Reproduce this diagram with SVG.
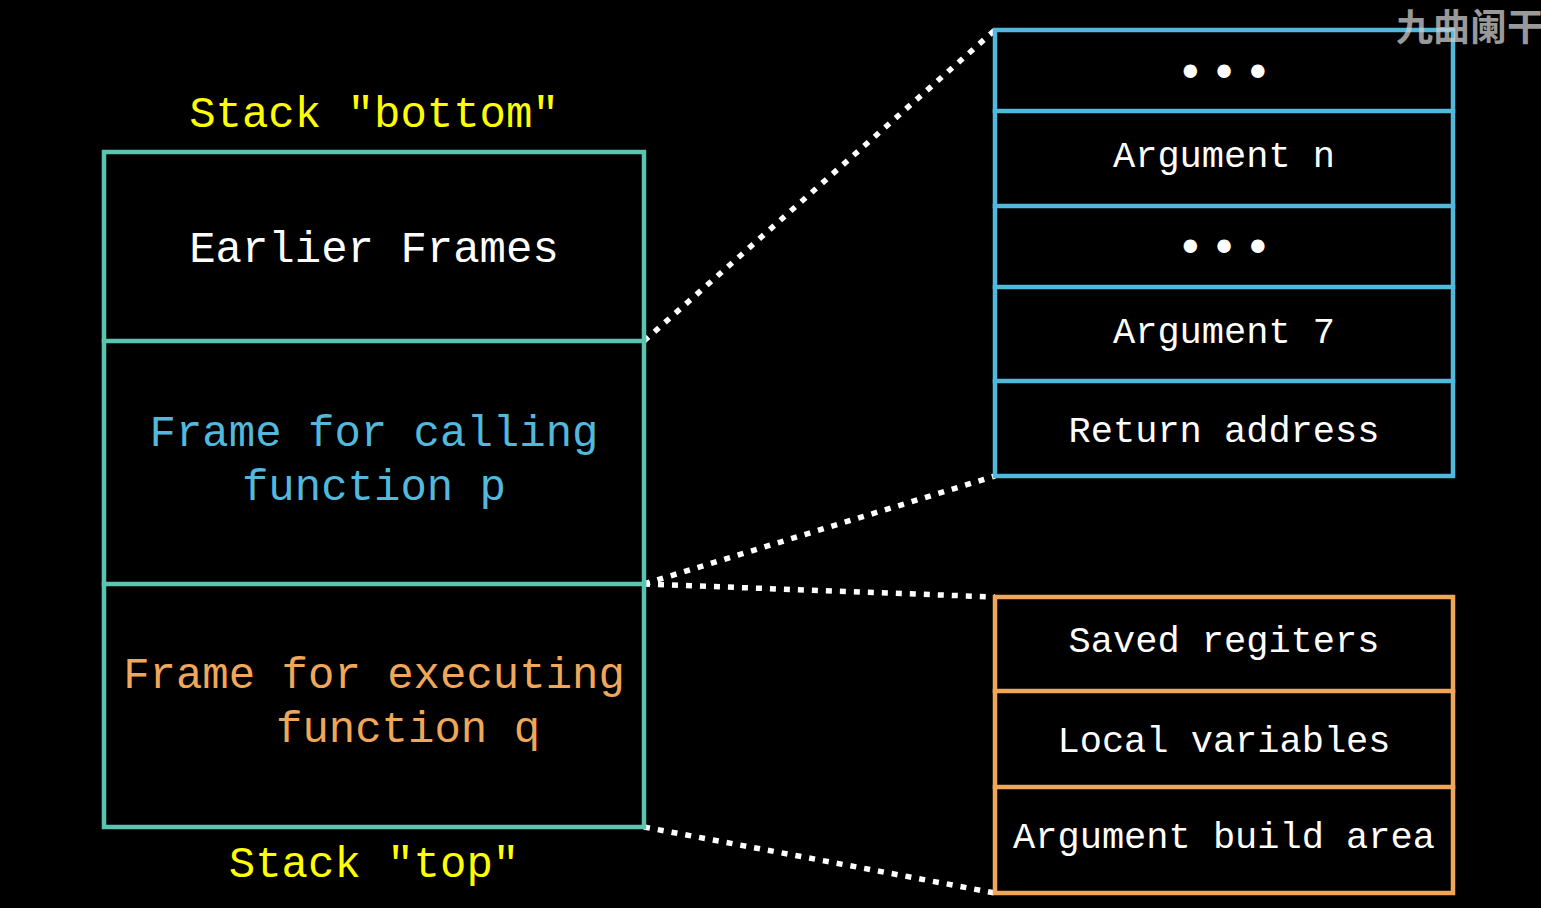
<svg xmlns="http://www.w3.org/2000/svg" width="1541" height="908" viewBox="0 0 1541 908">
<style>
.bg{fill:#000}
.box{fill:none;stroke-width:4.5;stroke-linecap:square}
.teal{stroke:#5BC4B0}
.blue{stroke:#52B8DC}
.gold{stroke:#F0A75A}
.t{font-family:"Liberation Mono","DejaVu Sans Mono",monospace;text-anchor:middle}
.big{font-size:44px}
.sm{font-size:37px}
.w{fill:#fff}
.y{fill:#FFFF00}
.bt{fill:#52B8DC}
.gt{fill:#F0A75A}
.dots{font-family:"DejaVu Sans","Liberation Sans",sans-serif;font-size:46px;fill:#fff;text-anchor:middle;letter-spacing:-4px}
.conn{stroke:#fff;stroke-width:5.5;stroke-dasharray:6 8;fill:none}
</style>
<rect class="bg" x="0" y="0" width="1541" height="908"/>

<g id="connectors">
<line class="conn" x1="644" y1="341" x2="995" y2="30"/>
<line class="conn" x1="644" y1="584" x2="995" y2="476"/>
<line class="conn" x1="644" y1="584" x2="995" y2="597"/>
<line class="conn" x1="644" y1="827" x2="995" y2="893"/>
</g>

<g id="label-bottom"><text class="t big y" x="374" y="127">Stack "bottom"</text></g>
<g id="label-top"><text class="t big y" x="374" y="877">Stack "top"</text></g>

<g id="stack">
<rect class="box teal" x="104" y="152" width="540" height="675"/>
<line class="box teal" x1="104" y1="341" x2="644" y2="341"/>
<line class="box teal" x1="104" y1="584" x2="644" y2="584"/>
</g>
<g id="earlier-frames"><text class="t big w" x="374" y="262">Earlier Frames</text></g>
<g id="frame-p">
<text class="t big bt" x="374" y="446">Frame for calling</text>
<text class="t big bt" x="374" y="500">function p</text>
</g>
<g id="frame-q">
<text class="t big gt" x="374" y="688">Frame for executing</text>
<text class="t big gt" x="276" y="742" style="text-anchor:start">function q</text>
</g>

<g id="args-box">
<rect class="box blue" x="995" y="30" width="458" height="446"/>
<line class="box blue" x1="995" y1="111" x2="1453" y2="111"/>
<line class="box blue" x1="995" y1="206" x2="1453" y2="206"/>
<line class="box blue" x1="995" y1="287" x2="1453" y2="287"/>
<line class="box blue" x1="995" y1="381" x2="1453" y2="381"/>
</g>
<g id="dots-1"><text class="dots" x="1222" y="89">• • •</text></g>
<g id="arg-n"><text class="t sm w" x="1224" y="167">Argument n</text></g>
<g id="dots-2"><text class="dots" x="1222" y="264">• • •</text></g>
<g id="arg-7"><text class="t sm w" x="1224" y="343">Argument 7</text></g>
<g id="ret-addr"><text class="t sm w" x="1224" y="442">Return address</text></g>

<g id="q-box">
<rect class="box gold" x="995" y="597" width="458" height="296"/>
<line class="box gold" x1="995" y1="691" x2="1453" y2="691"/>
<line class="box gold" x1="995" y1="787" x2="1453" y2="787"/>
</g>
<g id="saved-regs"><text class="t sm w" x="1224" y="652">Saved regiters</text></g>
<g id="locals"><text class="t sm w" x="1224" y="752">Local variables</text></g>
<g id="arg-build"><text class="t sm w" x="1224" y="848">Argument build area</text></g>

<g id="watermark"><text x="1396" y="41" style="font-family:'Noto Sans CJK SC',sans-serif;font-size:37px;font-weight:bold;fill:#ccc;fill-opacity:0.75">九曲阑干</text></g>
</svg>
